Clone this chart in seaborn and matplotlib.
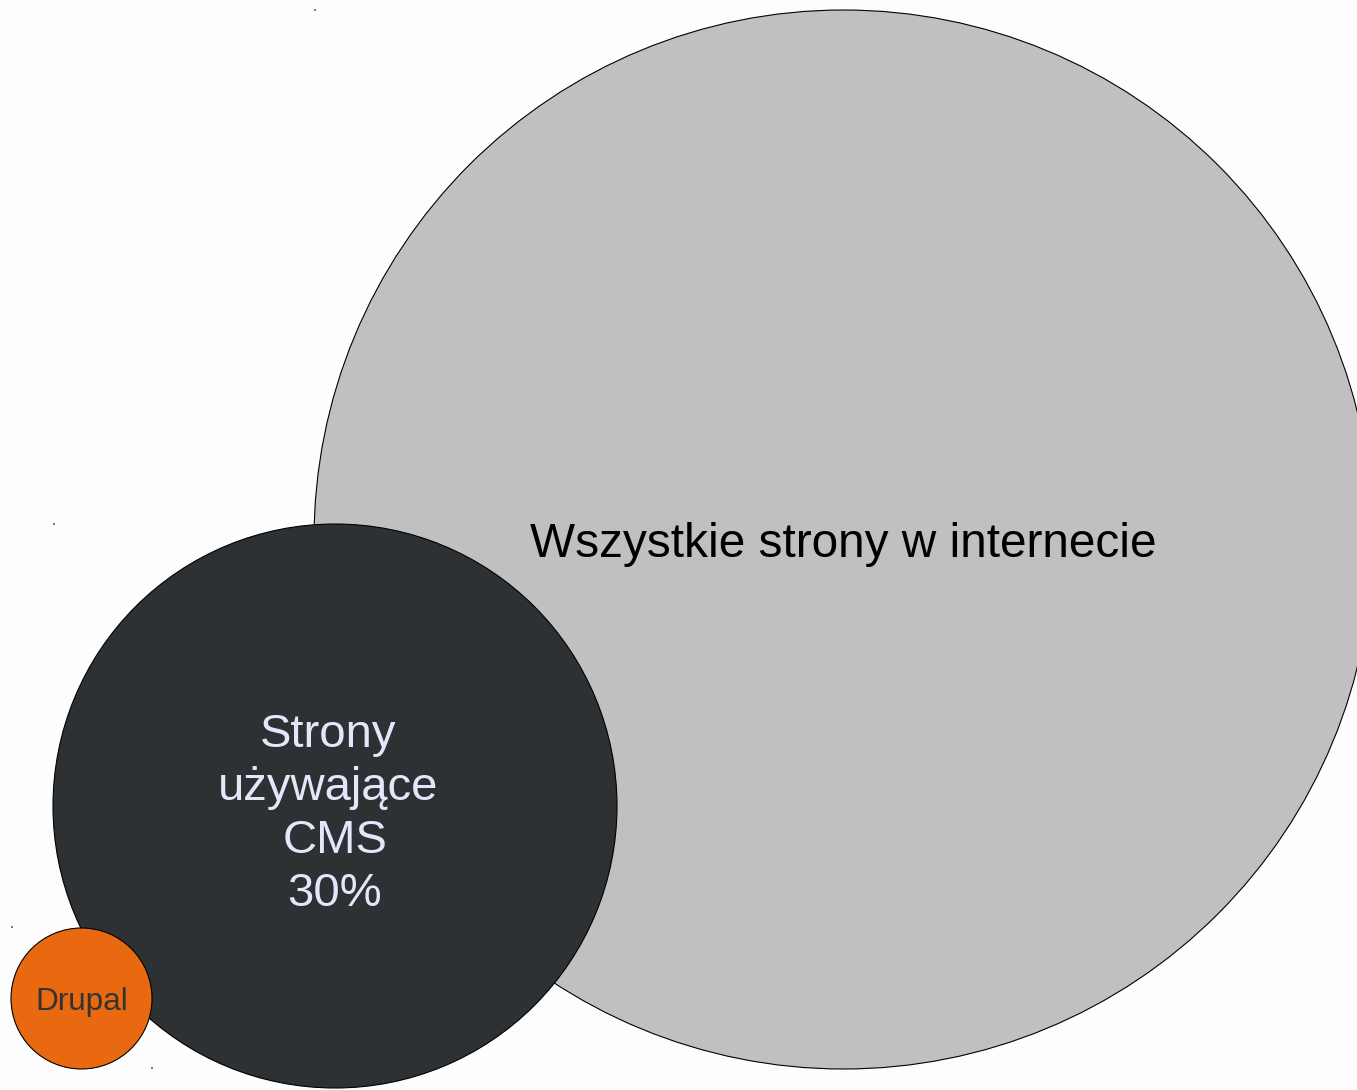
import matplotlib
matplotlib.use("Agg")
import matplotlib.pyplot as plt
import seaborn as sns
from matplotlib.patches import Circle

# ── data (pixel space, y grows downward) ──────────────────────────────────
names    = ["Wszystkie strony w internecie", "Strony używające CMS 30%", "Drupal"]
center_x = [843.5, 335.0, 81.5]
center_y = [539.5, 806.0, 998.5]
radius   = [529.5, 282.0, 70.5]
fills    = ["#c0c0c0", "#2e3134", "#e8690f"]

cms_lines   = ["Strony", "używające", "CMS", "30%"]
cms_x       = [328, 328, 335, 335]

# little handle dots left over at bounding-box corners
dot_x = [315, 54, 12, 152]
dot_y = [10, 524, 927, 1068]

sns.set_theme(style="white")
plt.rcParams["font.family"] = ["Liberation Sans", "DejaVu Sans"]

fig = plt.figure(figsize=(13.57, 10.90), dpi=100)
fig.patch.set_facecolor("#fdfdfd")
ax = fig.add_axes([0, 0, 1, 1])
ax.set_facecolor("#fdfdfd")
ax.set_xlim(0, 1357)
ax.set_ylim(1090, 0)
ax.set_aspect("equal")
ax.axis("off")

for i, (cx, cy, r, c) in enumerate(zip(center_x, center_y, radius, fills)):
    ax.add_patch(Circle((cx, cy), r, facecolor=c, edgecolor="black",
                        linewidth=0.8, zorder=2 + i))

# ── labels ────────────────────────────────────────────────────────────────
ax.text(843.5, 557, names[0], ha="center", va="baseline",
        fontsize=34.4, color="black", zorder=10)

for k, (line, x) in enumerate(zip(cms_lines, cms_x)):
    ax.text(x, 747 + k * 53, line, ha="center", va="baseline",
            fontsize=34, color="#e6e6fa", zorder=10)

ax.text(81.5, 1010, names[2], ha="center", va="baseline",
        fontsize=22.7, color="#333333", zorder=10)

sns.scatterplot(x=dot_x, y=dot_y, ax=ax, s=2, color="#555555",
                edgecolor="none", zorder=1, legend=False)

plt.savefig("out.png", dpi=100, facecolor=fig.get_facecolor())
plt.close()
